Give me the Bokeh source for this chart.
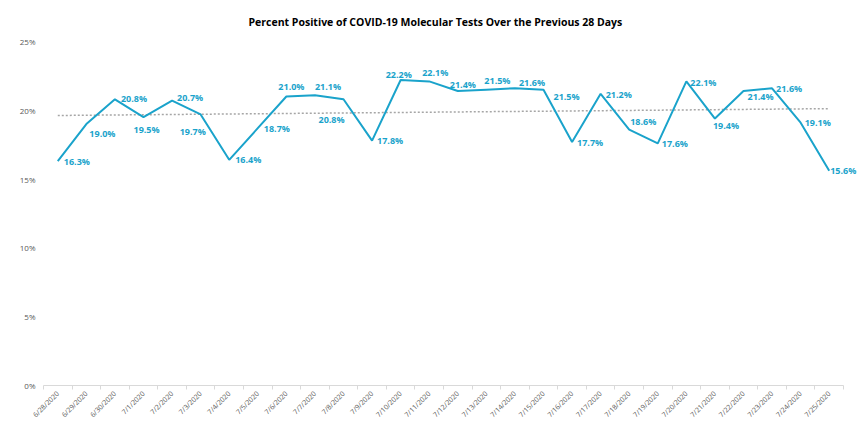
import math
import numpy as np
from bokeh.plotting import figure
from bokeh.models import FixedTicker, Range1d, ColumnDataSource, LabelSet
from bokeh.embed import file_html
from bokeh.resources import INLINE
from bokeh.core.properties import value

# ---- data ----
dates = ["6/28/2020", "6/29/2020", "6/30/2020", "7/1/2020", "7/2/2020", "7/3/2020",
         "7/4/2020", "7/5/2020", "7/6/2020", "7/7/2020", "7/8/2020", "7/9/2020",
         "7/10/2020", "7/11/2020", "7/12/2020", "7/13/2020", "7/14/2020", "7/15/2020",
         "7/16/2020", "7/17/2020", "7/18/2020", "7/19/2020", "7/20/2020", "7/21/2020",
         "7/22/2020", "7/23/2020", "7/24/2020", "7/25/2020"]
pct_positive = [16.3, 19.0, 20.8, 19.5, 20.7, 19.7, 16.4, 18.7, 21.0, 21.1, 20.8, 17.8,
                22.2, 22.1, 21.4, 21.5, 21.6, 21.5, 17.7, 21.2, 18.6, 17.6, 22.1, 19.4,
                21.4, 21.6, 19.1, 15.6]
y_ticks = [0, 5, 10, 15, 20, 25]
y_tick_labels = ["0%", "5%", "10%", "15%", "20%", "25%"]

# ---- label placement (style only: pixel offsets from each point, +dy = down) ----
label_dx = [6, 3, 6, -10, 5, -21, 6, 6, -8, 0, -25, 5, -15, -7, -8, -2, 4, 10,
            5, 5, 1, 4, 4, -2, 4, 4, 4, 1]
label_dy = [0, 9, -1, 12, -3, 17, 0, 0, -10, -9, 20, 0, -6, -9, -7, -9, -6, 7,
            1, 1, -8, 0, 1, 7, 5, 0, 0, 0]

LINE = "#1aa3cb"
GREY = "#595959"

n = len(dates)
idx = list(range(n))
src = ColumnDataSource(dict(
    x=idx,
    y=pct_positive,
    label=[f"{v:.1f}%" for v in pct_positive],
    dx=label_dx,
    dy=[-d for d in label_dy],
))

# frame extends a little past the last category so the last label is not clipped;
# the axis itself is bounded to the categories
p = figure(width=857, height=425, output_backend="svg", toolbar_location=None,
           x_range=Range1d(-0.5, n - 0.5 + 0.49), y_range=Range1d(0, 25),
           min_border_left=43, min_border_right=0, min_border_top=41, min_border_bottom=38)

p.title.text = "Percent Positive of COVID-19 Molecular Tests Over the Previous 28 Days"
p.title.align = "left"
p.title.offset = 205
p.title.text_font = "Open Sans"
p.title.text_font_size = "10.5px"
p.title.text_font_style = "bold"
p.title.text_color = "#000000"
p.title.standoff = 25

# trend line (least squares fit of the data)
coef = np.polyfit(idx, pct_positive, 1)
trend = np.polyval(coef, idx)
p.line(idx, trend, line_color="#a6a6a6", line_width=1.5, line_dash="2 2")

p.line("x", "y", source=src, line_color=LINE, line_width=2)
labels = LabelSet(x="x", y="y", text="label", x_offset="dx", y_offset="dy", source=src,
                  text_align="left", text_baseline="middle", text_font=value("Open Sans"),
                  text_font_style="bold", text_font_size="9px", text_color=LINE)
p.add_layout(labels)

# axes
xa = p.xaxis[0]
xa.bounds = (-0.5, n - 0.5)
xa.ticker = FixedTicker(ticks=idx, minor_ticks=[i - 0.5 for i in range(n + 1)])
xa.major_label_overrides = {i: d for i, d in enumerate(dates)}
xa.major_tick_line_color = None
xa.major_tick_out = 0
xa.major_tick_in = 0
xa.minor_tick_line_color = "#d9d9d9"
xa.minor_tick_in = 0
xa.minor_tick_out = 4
xa.axis_line_color = "#d9d9d9"
xa.major_label_orientation = math.pi / 4
xa.major_label_text_font = "Open Sans"
xa.major_label_text_font_size = "7px"
xa.major_label_text_color = GREY
xa.major_label_standoff = 3

ya = p.yaxis[0]
ya.ticker = FixedTicker(ticks=y_ticks)
ya.major_label_overrides = {t: l for t, l in zip(y_ticks, y_tick_labels)}
ya.axis_line_color = None
ya.major_tick_line_color = None
ya.major_tick_out = 0
ya.major_tick_in = 0
ya.minor_tick_line_color = None
ya.major_label_text_font = "Open Sans"
ya.major_label_text_font_size = "8px"
ya.major_label_text_color = GREY
ya.major_label_standoff = 8

p.xgrid.visible = False
p.ygrid.visible = False
p.outline_line_color = None

open("out.html", "w").write(file_html(p, INLINE))
